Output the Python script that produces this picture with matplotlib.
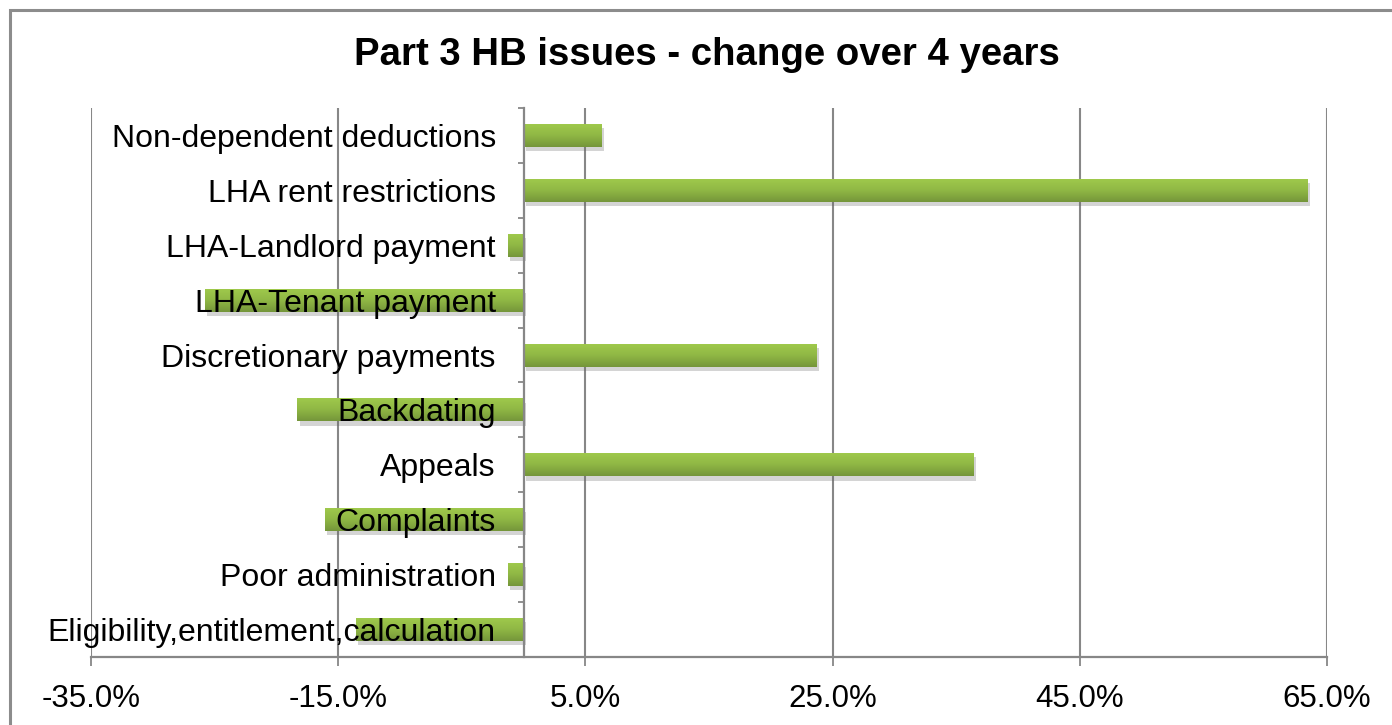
import numpy as np
import matplotlib
matplotlib.use("Agg")
import matplotlib.pyplot as plt
import matplotlib.patheffects as pe
from matplotlib.colors import LinearSegmentedColormap
from matplotlib.patches import Rectangle
from matplotlib.ticker import FuncFormatter, FixedLocator

plt.rcParams['font.family'] = ['Liberation Sans', 'DejaVu Sans']

# issues listed bottom to top, values are % change over 4 years
issues = ['Eligibility,entitlement,calculation', 'Poor administration', 'Complaints',
          'Appeals', 'Backdating', 'Discretionary payments', 'LHA-Tenant payment',
          'LHA-Landlord payment', 'LHA rent restrictions', 'Non-dependent deductions']
change = [-13.6, -1.3, -16.1, 36.4, -18.3, 23.7, -25.8, -1.3, 63.4, 6.3]
xticks = [-35, -15, 5, 25, 45, 65]

fig = plt.figure(figsize=(13.92, 7.25), dpi=100)
ax = fig.add_axes([91 / 1392, 68 / 725, 1236 / 1392, 549 / 725])

grid_col = '#878787'
pos = np.arange(len(issues))
bars = ax.barh(pos, change, height=0.42, color='#8db443', zorder=2,
               path_effects=[pe.SimplePatchShadow(offset=(2, -3), shadow_rgbFace='#666666', alpha=0.28),
                             pe.Normal()])

# vertical gradient on each bar
green = LinearSegmentedColormap.from_list('grn', ['#75963a', '#90b845', '#a0ca4c'])
grad = np.linspace(0, 1, 64).reshape(-1, 1)
for b in bars:
    x0, y0, w, h = b.get_x(), b.get_y(), b.get_width(), b.get_height()
    im = ax.imshow(grad, extent=(x0, x0 + w, y0, y0 + h), origin='lower',
                   aspect='auto', cmap=green, zorder=2.1)
    im.set_clip_path(b)

ax.set_xlim(-35, 65)
ax.set_ylim(-0.5, len(issues) - 0.5)

ax.xaxis.set_major_locator(FixedLocator(xticks))
ax.xaxis.set_major_formatter(FuncFormatter(lambda v, p: '%.1f%%' % v))
ax.grid(axis='x', color=grid_col, linewidth=1.5)
ax.xaxis.set_zorder(0.5)
ax.tick_params(axis='x', direction='out', length=6.5, width=1.3, color=grid_col,
               labelsize=22.5, pad=13)

ax.set_yticks(pos)
ax.set_yticklabels(issues)
ax.set_yticks(np.arange(-0.5, len(issues), 1.0), minor=True)
ax.tick_params(axis='y', which='major', length=0, labelsize=23, pad=20)
ax.tick_params(axis='y', which='minor', direction='out', length=4.5, width=1.3, color=grid_col)
ax.yaxis.set_zorder(5)

ax.spines['left'].set_position(('data', 0))
ax.spines['left'].set_color(grid_col)
ax.spines['left'].set_linewidth(1.6)
ax.spines['left'].set_zorder(4)
ax.spines['bottom'].set_color(grid_col)
ax.spines['bottom'].set_linewidth(1.6)
ax.spines['top'].set_visible(False)
ax.spines['right'].set_visible(False)

ax.set_title('Part 3 HB issues - change over 4 years', fontsize=27.6,
             fontweight='bold', pad=31, x=0.498)

# chart border (runs off the right and bottom edges)
fig.patches.append(Rectangle((10 / 1392, -0.1), 1.2, (715 / 725) + 0.1,
                             transform=fig.transFigure, fill=False,
                             edgecolor='#8c8c8c', linewidth=2.2))

fig.savefig('out.png', dpi=100)
